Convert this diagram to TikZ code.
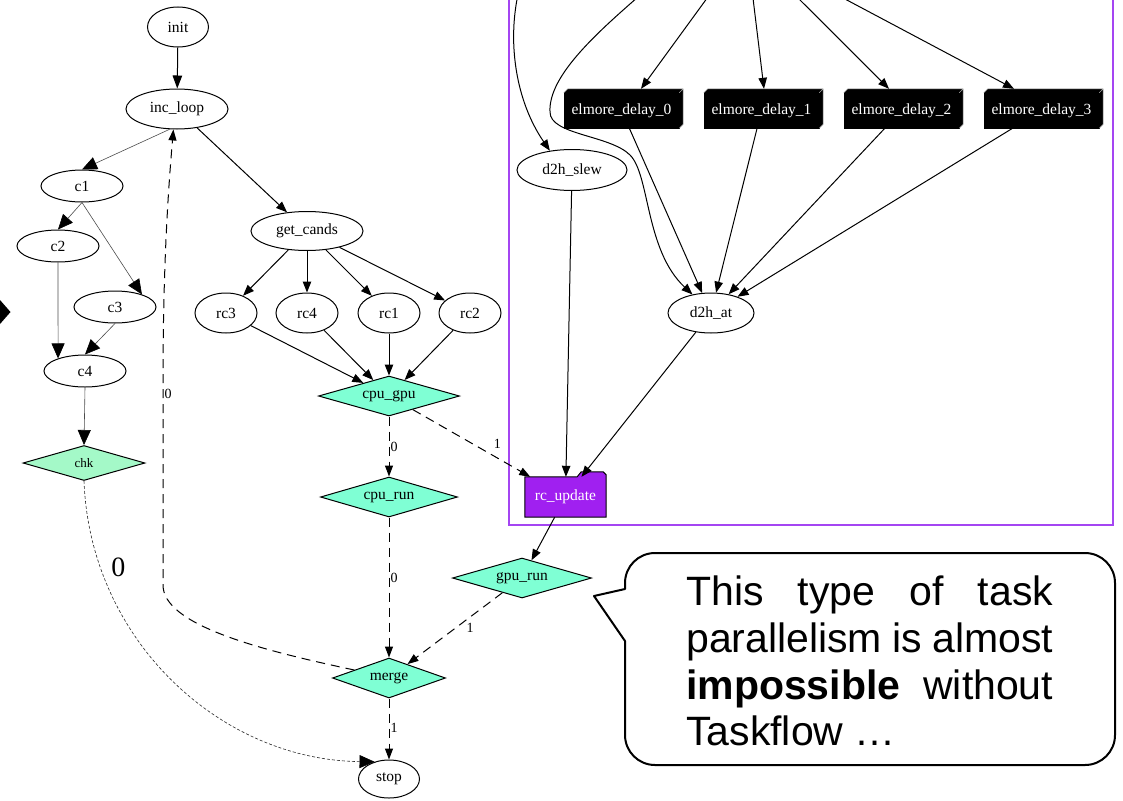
\documentclass[tikz,border=0pt]{standalone}
\usepackage{fontspec}
\setmainfont{Liberation Serif}
\newfontfamily\gfont{Liberation Serif}
\newfontfamily\calloutfont{Liberation Sans}
\usetikzlibrary{shapes.geometric,arrows.meta,calc}
\definecolor{aqua}{HTML}{7FFFD4}
\definecolor{chkfill}{HTML}{A4F9C8}
\definecolor{tfpurple}{HTML}{A020F0}
\definecolor{clusterpurple}{HTML}{A445F2}
\pgfdeclarelayer{bg}
\pgfsetlayers{bg,main}
\begin{document}
\begin{tikzpicture}[x=1pt,y=-1pt,
  every node/.style={font=\gfont\fontsize{15.5}{18}\selectfont, inner sep=0pt},
  task/.style={ellipse, draw, line width=1pt, minimum height=40pt},
  smalltask/.style={ellipse, draw, line width=1pt, minimum height=32pt, minimum width=82pt},
  cond/.style={diamond, draw, line width=1pt, fill=aqua, aspect=3.5, minimum height=40pt},
  dbox/.style={rectangle, fill=black, draw=black, text=white, minimum width=115pt, minimum height=35pt},
  edge/.style={line width=1pt, -{Triangle[length=11pt,width=8.5pt]}},
  midedge/.style={line width=1pt, -{Triangle[length=13pt,width=9.5pt]}},
  thinedge/.style={line width=0.6pt, draw=black!70, -{Triangle[length=15pt,width=13pt,color=black]}},
  condedge/.style={line width=1pt, dash pattern=on 9pt off 6pt, -{Triangle[length=11pt,width=8pt]}},
  chkedge/.style={line width=0.6pt, draw=black!85, dash pattern=on 3pt off 2pt, -{Triangle[length=15pt,width=13pt,color=black]}},
  lbl/.style={font=\gfont\fontsize{14}{16}\selectfont},
  biglbl/.style={font=\gfont\fontsize{28}{30}\selectfont},
  callout/.style={font=\calloutfont\fontsize{41}{47}\selectfont, anchor=base west}
]
\useasboundingbox (0,0) rectangle (1123,800);
\clip (0,0) rectangle (1123,800);

% left wedge
\fill[black] (0,300) -- (10.5,312) -- (0,324) -- cycle;

% cluster
\draw[draw=clusterpurple, line width=1.4pt] (509,-10) rectangle (1113,525);

% nodes
\node[task, minimum width=61pt] (init) at (178,27) {init};
\node[task, minimum width=102pt] (incloop) at (177,109) {inc\_loop};
\node[smalltask] (c1) at (82,186) {c1};
\node[smalltask] (c2) at (58,246) {c2};
\node[smalltask] (c3) at (115,307) {c3};
\node[smalltask] (c4) at (85,371) {c4};
\node[cond, fill=chkfill, minimum width=122pt, minimum height=35pt, font=\gfont\fontsize{13}{15}\selectfont] (chk) at (84,463) {chk};
\node[task, minimum width=112pt, minimum height=39pt] (getcands) at (307,231) {get\_cands};
\node[task, minimum width=62pt] (rc3) at (226,313) {rc3};
\node[task, minimum width=62pt] (rc4) at (307,313) {rc4};
\node[task, minimum width=62pt] (rc1) at (389,313) {rc1};
\node[task, minimum width=62pt] (rc2) at (470,313) {rc2};
\node[cond, minimum width=141pt] (cpugpu) at (389,396) {cpu\_gpu};
\node[cond, minimum width=137pt] (cpurun) at (389,497) {cpu\_run};
\node[cond, minimum width=139pt] (gpurun) at (522,578) {gpu\_run};
\node[cond, minimum width=113pt] (merge) at (389,678) {merge};
\node[task, minimum width=61pt, minimum height=38pt] (stop) at (389,779) {stop};
\node[rectangle, minimum width=81pt, minimum height=40pt, text=white] (rcupdate) at (565.5,497) {rc\_update};
\node[task, minimum width=110pt, minimum height=41pt] (d2hslew) at (572,170) {d2h\_slew};
\node[task, minimum width=86pt] (d2hat) at (711,313) {d2h\_at};
\node[dbox] (e0) at (621.5,110.5) {elmore\_delay\_0};
\node[dbox] (e1) at (761.5,110.5) {elmore\_delay\_1};
\node[dbox] (e2) at (901.5,110.5) {elmore\_delay\_2};
\node[dbox] (e3) at (1041.5,110.5) {elmore\_delay\_3};

% 3d box faces
\foreach \e in {e0,e1,e2,e3} {
  \fill[black] (\e.north west) -- ++(4pt,4pt) -- ($(\e.north east)+(4pt,4pt)$) -- ($(\e.south east)+(4pt,4pt)$) -- (\e.south east) -- (\e.north east) -- cycle;
  \draw[gray!70, line width=0.5pt] (\e.north west) -- ++(4pt,4pt) -- ($(\e.north east)+(4pt,4pt)$) -- ($(\e.south east)+(4pt,4pt)$) -- (\e.south east) (\e.north east) -- ++(4pt,4pt);
}

% folder shape for rc_update
\begin{pgfonlayer}{bg}
\filldraw[fill=tfpurple, draw=black, line width=1pt] (rcupdate.south west) -- (rcupdate.north west) -- ($(rcupdate.north east)+(-29pt,0pt)$) -- ++(4pt,5pt) -- ($(rcupdate.north east)+(-3pt,5pt)$) -- ($(rcupdate.north east)+(0pt,2pt)$) -- (rcupdate.south east) -- cycle;
\end{pgfonlayer}

% free ends above the picture
\coordinate (t0) at (713,-10);
\coordinate (t1) at (752,-10);
\coordinate (t2) at (790,-10);
\coordinate (t3) at (828,-10);
\coordinate (s1) at (519,-10);
\coordinate (s2) at (646,-10);

% edges left part
\draw[midedge] (init) -- (incloop);
\draw[thinedge] (incloop.250) -- (c1.north);
\draw[thinedge] (c1.south) -- (c2.north);
\draw[thinedge] (c1.south) -- (c3.25);
\draw[thinedge] (c2.south) -- (c4.155);
\draw[thinedge] (c3.south) -- (c4.north);
\draw[thinedge] (c4.south) -- (chk.north);
\draw[edge] (incloop) -- (getcands);
\foreach \r in {rc3,rc4,rc1,rc2} {
  \draw[edge] (getcands) -- (\r);
  \draw[edge] (\r) -- (cpugpu);
}
\draw[condedge] (cpugpu) -- node[lbl, pos=0.5, right=1pt] {0} (cpurun);
\draw[condedge] (cpugpu) -- node[lbl, pos=0.72, above=9pt] {1} (rcupdate);
\draw[condedge] (cpurun) -- node[lbl, pos=0.43, right=1pt] {0} (merge);
\draw[edge] (rcupdate) -- (gpurun);
\draw[condedge] (gpurun) -- node[lbl, pos=0.34, below=6pt] {1} (merge);
\draw[condedge] (merge) -- node[lbl, pos=0.48, right=1pt] {1} (stop);
\draw[condedge] (merge.167) .. controls (260,650) and (163,625) .. (163,585) -- node[lbl, pos=0.93, right=1pt] {0} (163,380) .. controls (163,250) and (170,170) .. (incloop.260);
\draw[chkedge] (chk.south) .. controls (90,640) and (220,760) .. node[biglbl, pos=0.19, right=11pt] {0} (stop.130);

% edges cluster
\draw[edge] (t0) -- ($(e0.north)+(19.5pt,4pt)$);
\draw[edge] (t1) -- ($(e1.north)+(2.5pt,4pt)$);
\draw[edge] (t2) -- ($(e2.north)+(-12.5pt,4pt)$);
\draw[edge] (t3) -- ($(e3.north)+(-27.5pt,4pt)$);
\draw[edge] (s1) .. controls (507,40) and (515,100) .. (d2hslew.139);
\draw[edge] (s2) .. controls (600,30) and (548,75) .. (550,112) .. controls (550,135) and (610,135) .. (630,155) .. controls (650,175) and (645,250) .. (d2hat.135);
\foreach \e in {e0,e1,e2,e3} { \draw[edge] (\e) -- (d2hat); }
\draw[edge] (d2hslew) -- (rcupdate);
\draw[edge] (d2hat) -- (rcupdate);

% callout
\draw[line width=2pt, line join=round] (594,596) -- (625,589) -- (625,583) .. controls (625,566.4) and (638.4,553) .. (655,553) -- (1085,553) .. controls (1101.6,553) and (1115,566.4) .. (1115,583) -- (1115,735) .. controls (1115,751.6) and (1101.6,765) .. (1085,765) -- (655,765) .. controls (638.4,765) and (625,751.6) .. (625,735) -- (625,641) -- cycle;
\node[callout] (l1) at (686,605) {\makebox[367pt][s]{This type of task}};
\node[callout] (l2) at (686,652) {\makebox[367pt][s]{parallelism is almost}};
\node[callout] (l3) at (686,699) {\makebox[367pt][s]{\textbf{impossible} without}};
\node[callout] (l4) at (686,745) {Taskflow …};
\end{tikzpicture}
\end{document}
